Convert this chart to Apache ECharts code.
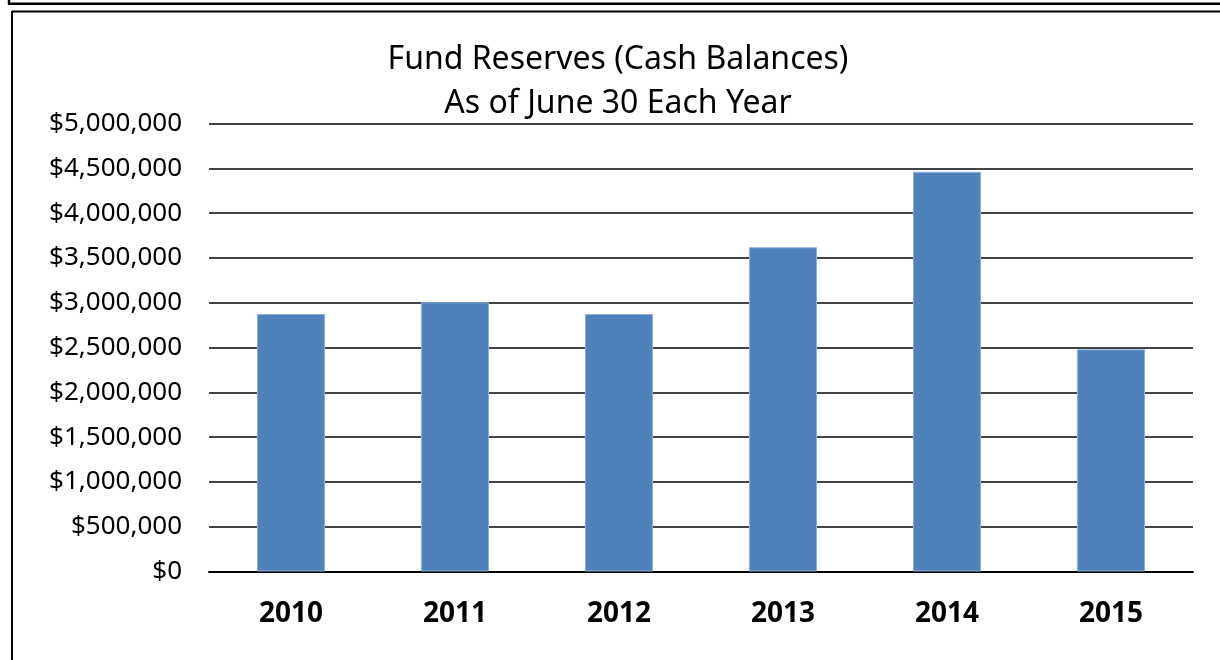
<!DOCTYPE html>
<html>
<head>
<meta charset="utf-8">
<script src="https://cdn.jsdelivr.net/npm/echarts@6/dist/echarts.min.js"></script>
<style>
html,body{margin:0;padding:0;background:#fff;}
#chart{width:1220px;height:660px;}
</style>
</head>
<body>
<div id="chart"></div>
<script>
const years = ['2010', '2011', '2012', '2013', '2014', '2015'];
const reserves = [2874000, 3005000, 2874000, 3618000, 4461000, 2480000];
const titleLines = ['Fund Reserves (Cash Balances)', 'As of June 30 Each Year'];

function money(v) {
  return '$' + v.toLocaleString('en-US');
}

const chart = echarts.init(document.getElementById('chart'));
chart.setOption({
  animation: false,
  backgroundColor: '#fff',
  title: {
    text: titleLines.join('\n'),
    left: 613,
    textAlign: 'center',
    top: 33,
    textStyle: {
      fontFamily: 'Noto Sans',
      fontWeight: 'normal',
      fontSize: 32,
      lineHeight: 44,
      color: '#000'
    }
  },
  grid: { left: 209, right: 27, top: 123.5, bottom: 88.5 },
  xAxis: {
    type: 'category',
    data: years,
    axisLine: { lineStyle: { color: '#000', width: 2 } },
    axisTick: { show: false },
    axisLabel: {
      margin: 29,
      fontFamily: 'Noto Sans',
      fontWeight: 'bold',
      fontSize: 28,
      color: '#000'
    }
  },
  yAxis: {
    type: 'value',
    min: 0,
    max: 5000000,
    interval: 500000,
    axisLine: { show: false },
    axisTick: { show: false },
    splitLine: { lineStyle: { color: '#444', width: 2 } },
    axisLabel: {
      margin: 27,
      fontFamily: 'Noto Sans',
      fontSize: 26,
      color: '#000',
      formatter: money
    }
  },
  series: [{
    type: 'bar',
    data: reserves,
    barWidth: '41.5%',
    itemStyle: { color: '#4f81bd', borderColor: '#8eaedb', borderWidth: 1 }
  }],
  graphic: [
    { type: 'line', shape: { x1: 9, y1: 0, x2: 9, y2: 4.5 }, style: { stroke: '#000', lineWidth: 2.5 } },
    { type: 'line', shape: { x1: 8, y1: 3.8, x2: 1220, y2: 3.8 }, style: { stroke: '#000', lineWidth: 2.5 } },
    { type: 'line', shape: { x1: 12, y1: 11.5, x2: 1220, y2: 11.5 }, style: { stroke: '#000', lineWidth: 2 } },
    { type: 'line', shape: { x1: 12, y1: 11, x2: 12, y2: 660 }, style: { stroke: '#000', lineWidth: 2 } }
  ]
});
</script>
</body>
</html>
